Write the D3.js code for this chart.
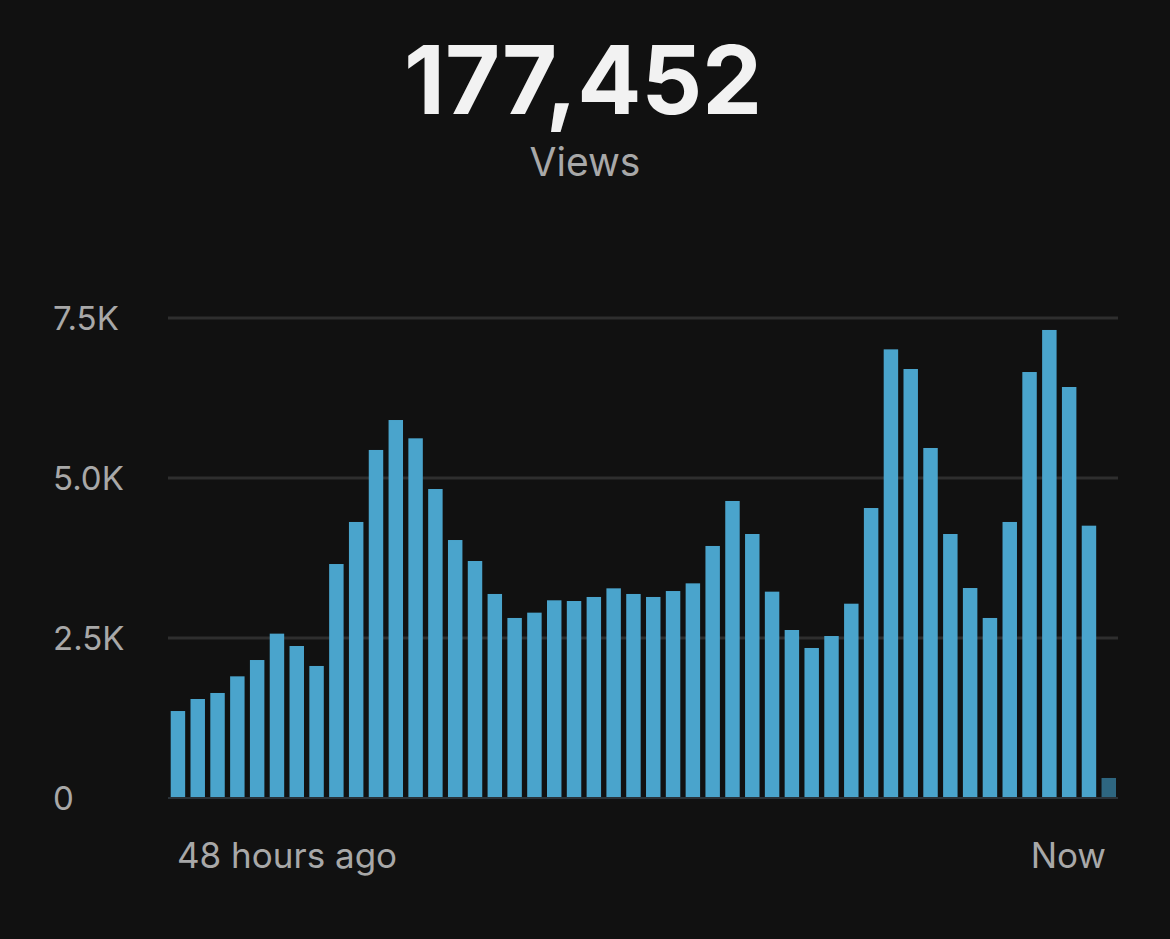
<!DOCTYPE html>
<html>
<head>
<meta charset="utf-8">
<script src="https://cdn.jsdelivr.net/npm/d3@7"></script>
<style>
  html, body { margin: 0; padding: 0; background: #111111; }
  svg { display: block; }
</style>
</head>
<body>
<svg id="chart" width="1170" height="939"></svg>
<script>
// ---- data ----
const totalViews = "177,452";
const metricLabel = "Views";
const hours = d3.range(48).map(i => 48 - i); // hours ago, oldest first
const views = [
  1359, 1547, 1641, 1901, 2156, 2568, 2375, 2063, 3656, 4313,
  5438, 5906, 5620, 4828, 4031, 3703, 3188, 2813, 2896, 3089,
  3078, 3141, 3276, 3188, 3141, 3234, 3354, 3938, 4641, 4125,
  3224, 2625, 2344, 2531, 3036, 4531, 7010, 6703, 5469, 4125,
  3281, 2813, 4313, 6656, 7313, 6422, 4255, 313
];
const yTicks = [0, 2500, 5000, 7500];
const yTickLabels = ["0", "2.5K", "5.0K", "7.5K"];
const xLabels = ["48 hours ago", "Now"];

// ---- layout ----
const svg = d3.select("#chart");
const font = "Inter, 'Helvetica Neue', Arial, sans-serif";

const x = d3.scaleBand()
  .domain(hours)
  .range([170.7, 1116])
  .paddingInner(0.27)
  .paddingOuter(0);

const y = d3.scaleLinear()
  .domain([0, 7500])
  .range([798, 318]);

// title
svg.append("text")
  .attr("x", 583).attr("y", 114)
  .attr("text-anchor", "middle")
  .attr("font-family", font)
  .attr("font-weight", 700)
  .attr("font-size", 95)
  .attr("fill", "#f2f2f2")
  .text(totalViews);

svg.append("text")
  .attr("x", 585).attr("y", 176)
  .attr("text-anchor", "middle")
  .attr("font-family", font)
  .attr("font-size", 39)
  .attr("fill", "#a8a8a8")
  .text(metricLabel);

// grid lines
const grid = svg.append("g");
grid.selectAll("line")
  .data(yTicks.filter(d => d > 0))
  .join("line")
  .attr("x1", 168).attr("x2", 1118)
  .attr("y1", d => y(d)).attr("y2", d => y(d))
  .attr("stroke", "#2e2e2e")
  .attr("stroke-width", 3);

// y tick labels
svg.append("g").selectAll("text")
  .data(yTicks)
  .join("text")
  .attr("x", 53)
  .attr("y", d => y(d) + 12)
  .attr("font-family", font)
  .attr("font-size", 33)
  .attr("fill", "#a8a8a8")
  .text((d, i) => yTickLabels[i]);

// bars
svg.append("g").selectAll("rect")
  .data(views)
  .join("rect")
  .attr("x", (d, i) => x(hours[i]))
  .attr("width", x.bandwidth())
  .attr("y", d => y(d))
  .attr("height", d => y(0) - y(d))
  .attr("fill", (d, i) => i === views.length - 1 ? "#2e6680" : "#4aa4cc");

// baseline
svg.append("line")
  .attr("x1", 168).attr("x2", 1118)
  .attr("y1", y(0)).attr("y2", y(0))
  .attr("stroke", "#2a3238")
  .attr("stroke-width", 2);

// x labels
svg.append("text")
  .attr("x", 177).attr("y", 868)
  .attr("font-family", font)
  .attr("font-size", 35)
  .attr("fill", "#a8a8a8")
  .text(xLabels[0]);

svg.append("text")
  .attr("x", 1106).attr("y", 868)
  .attr("text-anchor", "end")
  .attr("font-family", font)
  .attr("font-size", 35)
  .attr("fill", "#a8a8a8")
  .text(xLabels[1]);
</script>
</body>
</html>
